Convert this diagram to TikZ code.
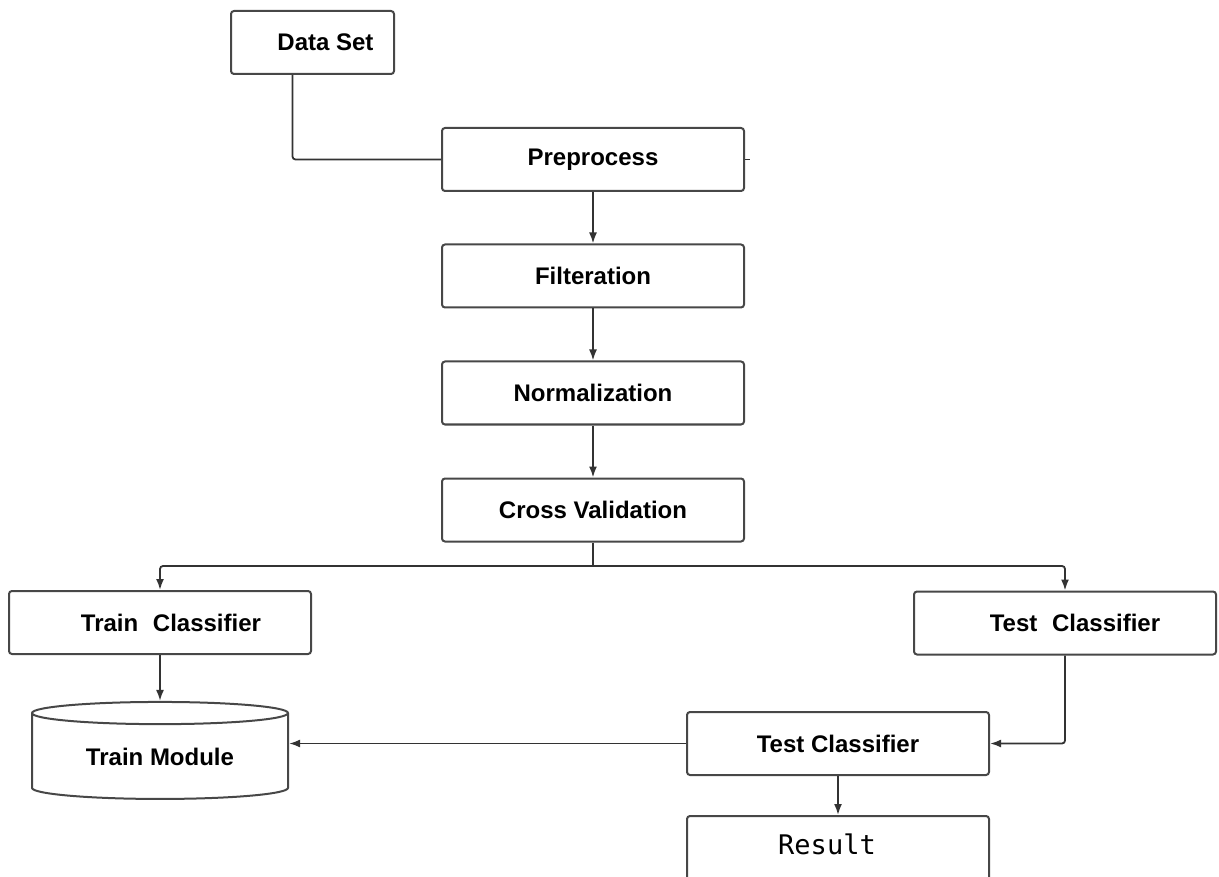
\documentclass[tikz,border=0pt]{standalone}
\usepackage{fontspec}
\setmainfont{Liberation Sans}
\newfontfamily\resultfont{DejaVu Sans Mono}
\usetikzlibrary{arrows.meta}
\usetikzlibrary{shapes}

\begin{document}
\begin{tikzpicture}[x = 1pt, y = -1pt, font = \fontsize{24}{28}\selectfont\bfseries]
\tikzstyle{BoxStyle} = [shape = rectangle, draw = black!72, line width = 2pt, rounded corners = 3pt, minimum width = 302pt, minimum height = 63pt, inner sep = 0pt]
\tikzstyle{DataStyle} = [BoxStyle, minimum width = 163pt]
\tikzstyle{ModuleStyle} = [shape = cylinder, shape border rotate = 90, aspect = 0.15, draw = black!72, line width = 2pt, minimum width = 256pt, minimum height = 97pt, inner sep = 0pt]
\tikzstyle{ResultStyle} = [BoxStyle, anchor = north, inner ysep = 6pt, text height = 32pt, text depth = 50pt, font = \fontsize{27}{31}\selectfont\resultfont]
\tikzstyle{EdgeStyle} = [draw = black!80, line width = 1.8pt, rounded corners = 3pt]
\tikzstyle{ArrowStyle} = [EdgeStyle, -{Latex[length = 11pt, width = 8pt]}]
\useasboundingbox (0, 0) rectangle (1219, 877);
\clip (0, 0) rectangle (1219, 877);
\node[DataStyle] (data) at (312.5, 42.5) {\hspace*{26pt}Data Set};
\node[BoxStyle] (pre) at (593, 159.5) {Preprocess};
\node[BoxStyle] (filt) at (593, 276) {Filteration};
\node[BoxStyle] (norm) at (593, 393) {Normalization};
\node[BoxStyle] (cv) at (593, 510) {Cross Validation};
\node[BoxStyle] (train) at (160, 622.5) {\hspace*{22pt}Train\,\, Classifier};
\node[BoxStyle] (testa) at (1065, 623) {\hspace*{20pt}Test\,\, Classifier};
\node[ModuleStyle] (module) at (160, 756.5) {Train Module};
\node[BoxStyle] (testb) at (838, 743.5) {Test Classifier};
\node[ResultStyle] (result) at (838, 815) {Result\hspace*{22pt}};
\coordinate (stub) at (750, 159.5);
\coordinate (split) at (593, 566);
\draw[EdgeStyle] ([xshift = -20pt]data.south) |- (pre.west);
\draw[EdgeStyle] (pre.east) -- (stub);
\draw[ArrowStyle] (pre) -- (filt);
\draw[ArrowStyle] (filt) -- (norm);
\draw[ArrowStyle] (norm) -- (cv);
\draw[EdgeStyle] (cv.south) -- (split);
\draw[ArrowStyle] (split) -| (train.north);
\draw[ArrowStyle] (split) -| (testa.north);
\draw[ArrowStyle] (train) -- (module);
\draw[ArrowStyle] (testa.south) |- (testb.east);
\draw[ArrowStyle] (testb.west) -- (testb.west -| module.east);
\draw[ArrowStyle] (testb) -- (result);
\end{tikzpicture}
\end{document}
